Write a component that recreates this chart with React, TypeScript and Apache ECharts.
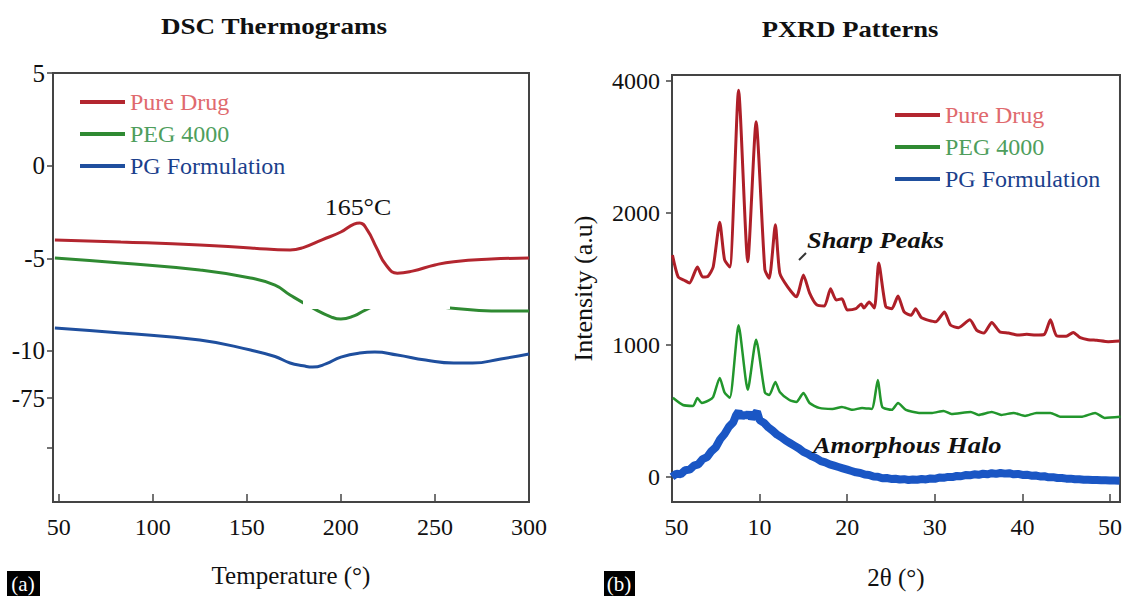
import React, { useEffect, useRef } from "react";
import * as echarts from "echarts";

const FONT = "Liberation Serif";

const seriesNames = ["Pure Drug", "PEG 4000", "PG Formulation"];

// DSC panel (a)
const dscTicksX = [50, 100, 150, 200, 250, 300];
const dscTicksY = [5, 0, -5, -10, -12.54, -15.24];
const dscTickLabelsY = ["5", "0", "-5", "-10", "-75", ""];
const dscPureDrug = [
  [48, -4.01], [83, -4.12], [125, -4.28], [152, -4.44], [173, -4.55],
  [180, -4.42], [190, -4.0], [200, -3.58], [207, -3.15], [210, -3.09], [214, -3.47], [219, -4.44],
  [224, -5.36], [230, -5.8], [238, -5.69], [250, -5.36], [260, -5.18], [280, -5.04], [300, -4.98],
];
const dscPeg = [
  [48, -4.98], [83, -5.25], [125, -5.63], [152, -6.06], [165, -6.45], [173, -6.98],
  [185, -7.68], [195, -8.17], [200, -8.28], [207, -8.11], [213, -7.79], [220, -7.57], [240, -7.57],
  [258, -7.68], [280, -7.84], [300, -7.84],
];
const dscPg = [
  [48, -8.76], [83, -9.03], [125, -9.41], [152, -9.95], [165, -10.3], [173, -10.65],
  [180, -10.8], [185, -10.87], [192, -10.7], [200, -10.33], [210, -10.11], [218, -10.06], [230, -10.22],
  [245, -10.49], [260, -10.65], [270, -10.65], [285, -10.43], [300, -10.16],
];

// PXRD panel (b)
const xrdTicksX = [10, 20, 30, 40, 50];
const xrdLabelsX = [0.5, 10, 20, 30, 40, 50];
const xrdTicksY = [0, 1000, 2000, 3000];
const xrdTickLabelsY = ["0", "1000", "2000", "4000"];
const xrdPureDrug = [
  [0.05, 1680], [0.7, 1515], [1.4, 1490], [2.0, 1470], [2.9, 1590], [3.5, 1515], [4.1, 1520], [4.7, 1590],
  [5.45, 1930], [6.0, 1645], [6.6, 1590], [7.6, 2930], [8.65, 1630], [9.6, 2690], [10.6, 1570], [11.1, 1505],
  [11.8, 1910], [12.3, 1545], [13.2, 1440], [14.2, 1365], [15.0, 1530], [15.7, 1395], [16.5, 1305], [17.4, 1295],
  [18.1, 1425], [18.75, 1340], [19.4, 1350], [20.0, 1265], [21.0, 1275], [21.6, 1310], [21.9, 1280], [22.5, 1325],
  [23.1, 1280], [23.6, 1620], [24.4, 1290], [25.1, 1275], [25.8, 1370], [26.5, 1250], [27.3, 1225], [27.8, 1275],
  [28.5, 1205], [30.1, 1175], [31.1, 1250], [31.8, 1150], [32.7, 1130], [34.0, 1190], [34.8, 1110], [35.6, 1090],
  [36.5, 1170], [37.4, 1100], [38.4, 1090], [39.5, 1075], [40.5, 1080], [41.5, 1075], [42.5, 1080], [43.2, 1190],
  [43.9, 1070], [45.0, 1065], [45.8, 1095], [46.6, 1055], [47.5, 1040], [48.5, 1035], [49.8, 1025], [51.1, 1030],
];
const xrdPeg = [
  [0.1, 600], [1.25, 545], [2.4, 538], [2.9, 598], [3.4, 560], [4.2, 580], [4.7, 606], [5.45, 750], [6.0, 640],
  [6.6, 600], [7.6, 1150], [8.65, 660], [9.6, 1040], [10.6, 640], [11.1, 620], [11.8, 720], [12.3, 644],
  [13.4, 583], [14.2, 568], [15.0, 636], [15.7, 560], [16.8, 523], [18.3, 515], [19.4, 530], [20.6, 508],
  [21.7, 523], [22.8, 515], [23.5, 735], [24.0, 530], [25.1, 508], [25.8, 560], [26.7, 508], [28.2, 485],
  [29.7, 485], [31.0, 500], [31.9, 477], [34.1, 492], [35.0, 470], [36.5, 492], [37.6, 470], [39.0, 485],
  [40.3, 462], [41.6, 485], [43.2, 485], [44.4, 455], [46.7, 455], [48.3, 485], [49.4, 447], [51.2, 455],
];
const xrdPg = [
  [0, 0], [0.5, 25], [1, 20], [1.5, 50], [2, 55], [2.5, 85], [3, 95], [3.5, 135], [4, 150], [4.5, 195],
  [5, 225], [5.5, 285], [6, 325], [6.5, 380], [7, 415], [7.3, 465], [7.6, 495], [7.9, 450], [8.2, 480],
  [8.5, 455], [8.8, 485], [9.1, 445], [9.4, 470], [9.7, 495], [10, 430], [10.5, 410], [11, 375], [11.5, 350],
  [12, 320], [12.5, 300], [13, 275], [13.5, 255], [14, 235], [14.5, 215], [15, 190], [15.5, 175], [16, 155],
  [16.5, 140], [17, 120], [17.5, 110], [18, 95], [18.5, 85], [19, 75], [19.5, 65], [20, 55], [20.5, 45],
  [21, 35], [21.5, 30], [22, 18], [22.5, 15], [23, 3], [23.5, 2], [24, -10], [24.5, -8], [25, -15], [25.5, -14],
  [26, -20], [26.5, -17], [27, -23], [27.5, -19], [28, -21], [28.5, -16], [29, -19], [29.5, -12], [30, -14],
  [30.5, -5], [31, -7], [31.5, 0], [32, -1], [32.5, 7], [33, 5], [33.5, 14], [34, 12], [34.5, 20], [35, 16],
  [35.5, 24], [36, 20], [36.5, 28], [37, 23], [37.5, 30], [38, 25], [38.5, 28], [39, 20], [39.5, 23], [40, 15],
  [40.5, 17], [41, 9], [41.5, 11], [42, 4], [42.5, 5], [43, -3], [43.5, -2], [44, -8], [44.5, -8], [45, -13],
  [45.5, -13], [46, -18], [46.5, -18], [47, -21], [47.5, -22], [48, -24], [48.5, -24], [49, -26], [49.5, -26],
  [50, -28], [50.5, -28], [51.1, -29],
];

const legendTextColors = ["#e06a6e", "#4e9e5c", "#1b3f8c"];
const dscColors = ["#b3262f", "#2f8a32", "#1f4f9e"];
const xrdColors = ["#ae1f28", "#22962c", "#1a56c4"];

export default function App() {
  const ref = useRef<HTMLDivElement>(null);

  useEffect(() => {
    if (!ref.current) return;
    const chart = echarts.init(ref.current, undefined, { renderer: "svg" });

    const axisText = { fontFamily: FONT, color: "#111" };
    const legendData = seriesNames.map((n, i) => ({
      name: n,
      textStyle: { color: legendTextColors[i], fontFamily: FONT, fontSize: 24 },
    }));
    const legendBase = {
      orient: "vertical",
      icon: "rect",
      itemWidth: 45,
      itemHeight: 4,
      itemGap: 8,
      padding: 0,
      selectedMode: false,
      textStyle: { fontFamily: FONT, fontSize: 24, lineHeight: 24 },
      data: legendData,
    };

    const txt = (text: string, x: number, y: number, font: string, scaleX: number, align = "center") => ({
      type: "text",
      z: 101,
      x,
      y,
      scaleX,
      style: { text, font, fill: "#111", textAlign: align, textVerticalAlign: "middle" },
    });

    const option: any = {
      animation: false,
      backgroundColor: "#ffffff",
      textStyle: { fontFamily: FONT },
      grid: [
        { left: 53, top: 73, width: 476, height: 429, show: true, borderColor: "#444", borderWidth: 2, backgroundColor: "transparent" },
        { left: 672, top: 75, width: 450, height: 427, show: true, borderColor: "#444", borderWidth: 2, backgroundColor: "transparent" },
      ],
      legend: [
        { ...legendBase, left: 80, top: 90 },
        { ...legendBase, left: 895, top: 103 },
      ],
      xAxis: [
        {
          type: "value", gridIndex: 0, min: 47, max: 300,
          axisLine: { show: false, onZero: false },
          axisTick: { show: true, inside: true, length: 8, customValues: dscTicksX, lineStyle: { color: "#444", width: 1.5 } },
          axisLabel: { customValues: dscTicksX, fontSize: 24, margin: 13, ...axisText },
          splitLine: { show: false },
          name: "Temperature (°)", nameLocation: "middle", nameGap: 61,
          nameTextStyle: { fontSize: 25, ...axisText },
        },
        {
          type: "value", gridIndex: 1, min: 0, max: 51.14,
          axisLine: { show: false, onZero: false },
          axisTick: { show: true, inside: true, length: 8, customValues: xrdTicksX, lineStyle: { color: "#444", width: 1.5 } },
          axisLabel: {
            customValues: xrdLabelsX, fontSize: 24, margin: 13, ...axisText,
            formatter: (v: number) => (v === 0.5 ? "50" : String(v)),
          },
          splitLine: { show: false },
          name: "2θ (°)", nameLocation: "middle", nameGap: 63,
          nameTextStyle: { fontSize: 25, ...axisText },
        },
      ],
      yAxis: [
        {
          type: "value", gridIndex: 0, min: -18.15, max: 5,
          axisLine: { show: false, onZero: false },
          axisTick: { show: true, inside: false, length: 6, customValues: dscTicksY, lineStyle: { color: "#444", width: 1.5 } },
          axisLabel: {
            customValues: dscTicksY.slice(0, 5), fontSize: 25, margin: 8, ...axisText,
            formatter: (v: number) => {
              const i = dscTicksY.findIndex((t) => Math.abs(t - v) < 1e-6);
              return i >= 0 ? dscTickLabelsY[i] : "";
            },
          },
          splitLine: { show: false },
        },
        {
          type: "value", gridIndex: 1, min: -190, max: 3045,
          axisLine: { show: false, onZero: false },
          axisTick: { show: true, inside: false, length: 6, customValues: xrdTicksY, lineStyle: { color: "#444", width: 1.5 } },
          axisLabel: {
            customValues: xrdTicksY, fontSize: 24, margin: 12, ...axisText,
            formatter: (v: number) => {
              const i = xrdTicksY.indexOf(v);
              return i >= 0 ? xrdTickLabelsY[i] : "";
            },
          },
          splitLine: { show: false },
          name: "Intensity (a.u)", nameLocation: "middle", nameGap: 76, nameRotate: 90,
          nameTextStyle: { fontSize: 26, ...axisText },
        },
      ],
      series: [
        { name: seriesNames[0], type: "line", xAxisIndex: 0, yAxisIndex: 0, data: dscPureDrug, smooth: true, showSymbol: false, color: dscColors[0], lineStyle: { width: 3, color: dscColors[0] } },
        { name: seriesNames[1], type: "line", xAxisIndex: 0, yAxisIndex: 0, data: dscPeg, smooth: true, showSymbol: false, color: dscColors[1], lineStyle: { width: 3, color: dscColors[1] } },
        { name: seriesNames[2], type: "line", xAxisIndex: 0, yAxisIndex: 0, data: dscPg, smooth: true, showSymbol: false, color: dscColors[2], lineStyle: { width: 3, color: dscColors[2] } },
        { name: seriesNames[0], type: "line", xAxisIndex: 1, yAxisIndex: 1, data: xrdPureDrug, smooth: 0.2, showSymbol: false, color: xrdColors[0], lineStyle: { width: 3, color: xrdColors[0] } },
        { name: seriesNames[1], type: "line", xAxisIndex: 1, yAxisIndex: 1, data: xrdPeg, smooth: 0.2, showSymbol: false, color: xrdColors[1], lineStyle: { width: 2.5, color: xrdColors[1] } },
        { name: seriesNames[2], type: "line", xAxisIndex: 1, yAxisIndex: 1, data: xrdPg, showSymbol: false, color: xrdColors[2], lineStyle: { width: 8, color: xrdColors[2], cap: "butt", join: "bevel" } },
      ],
      graphic: [
        { type: "rect", z: 100, shape: { x: 303, y: 280, width: 147, height: 29 }, style: { fill: "#ffffff" } },
        txt("DSC Thermograms", 274, 26, `bold 24px "${FONT}"`, 1.13),
        txt("PXRD Patterns", 850, 28, `bold 24px "${FONT}"`, 1.11),
        txt("165°C", 358, 207, `24px "${FONT}"`, 1.08),
        txt("Sharp Peaks", 807, 240, `italic bold 24px "${FONT}"`, 1.1, "left"),
        { type: "line", z: 101, shape: { x1: 806, y1: 253, x2: 799, y2: 260 }, style: { stroke: "#333", lineWidth: 2 } },
        txt("Amorphous Halo", 813, 445, `italic bold 24px "${FONT}"`, 1.1, "left"),
        { type: "rect", z: 101, shape: { x: 7, y: 571, width: 33, height: 25 }, style: { fill: "#000" } },
        { type: "text", z: 102, x: 23, y: 584, style: { text: "(a)", font: `21px "${FONT}"`, fill: "#fff", textAlign: "center", textVerticalAlign: "middle" } },
        { type: "rect", z: 101, shape: { x: 604, y: 571, width: 31, height: 25 }, style: { fill: "#000" } },
        { type: "text", z: 102, x: 619, y: 584, style: { text: "(b)", font: `21px "${FONT}"`, fill: "#fff", textAlign: "center", textVerticalAlign: "middle" } },
      ],
    };

    chart.setOption(option);
    return () => chart.dispose();
  }, []);

  return (
    <div
      ref={ref}
      style={{ position: "fixed", left: 0, top: 0, width: 1125, height: 596, background: "#fff" }}
    />
  );
}
